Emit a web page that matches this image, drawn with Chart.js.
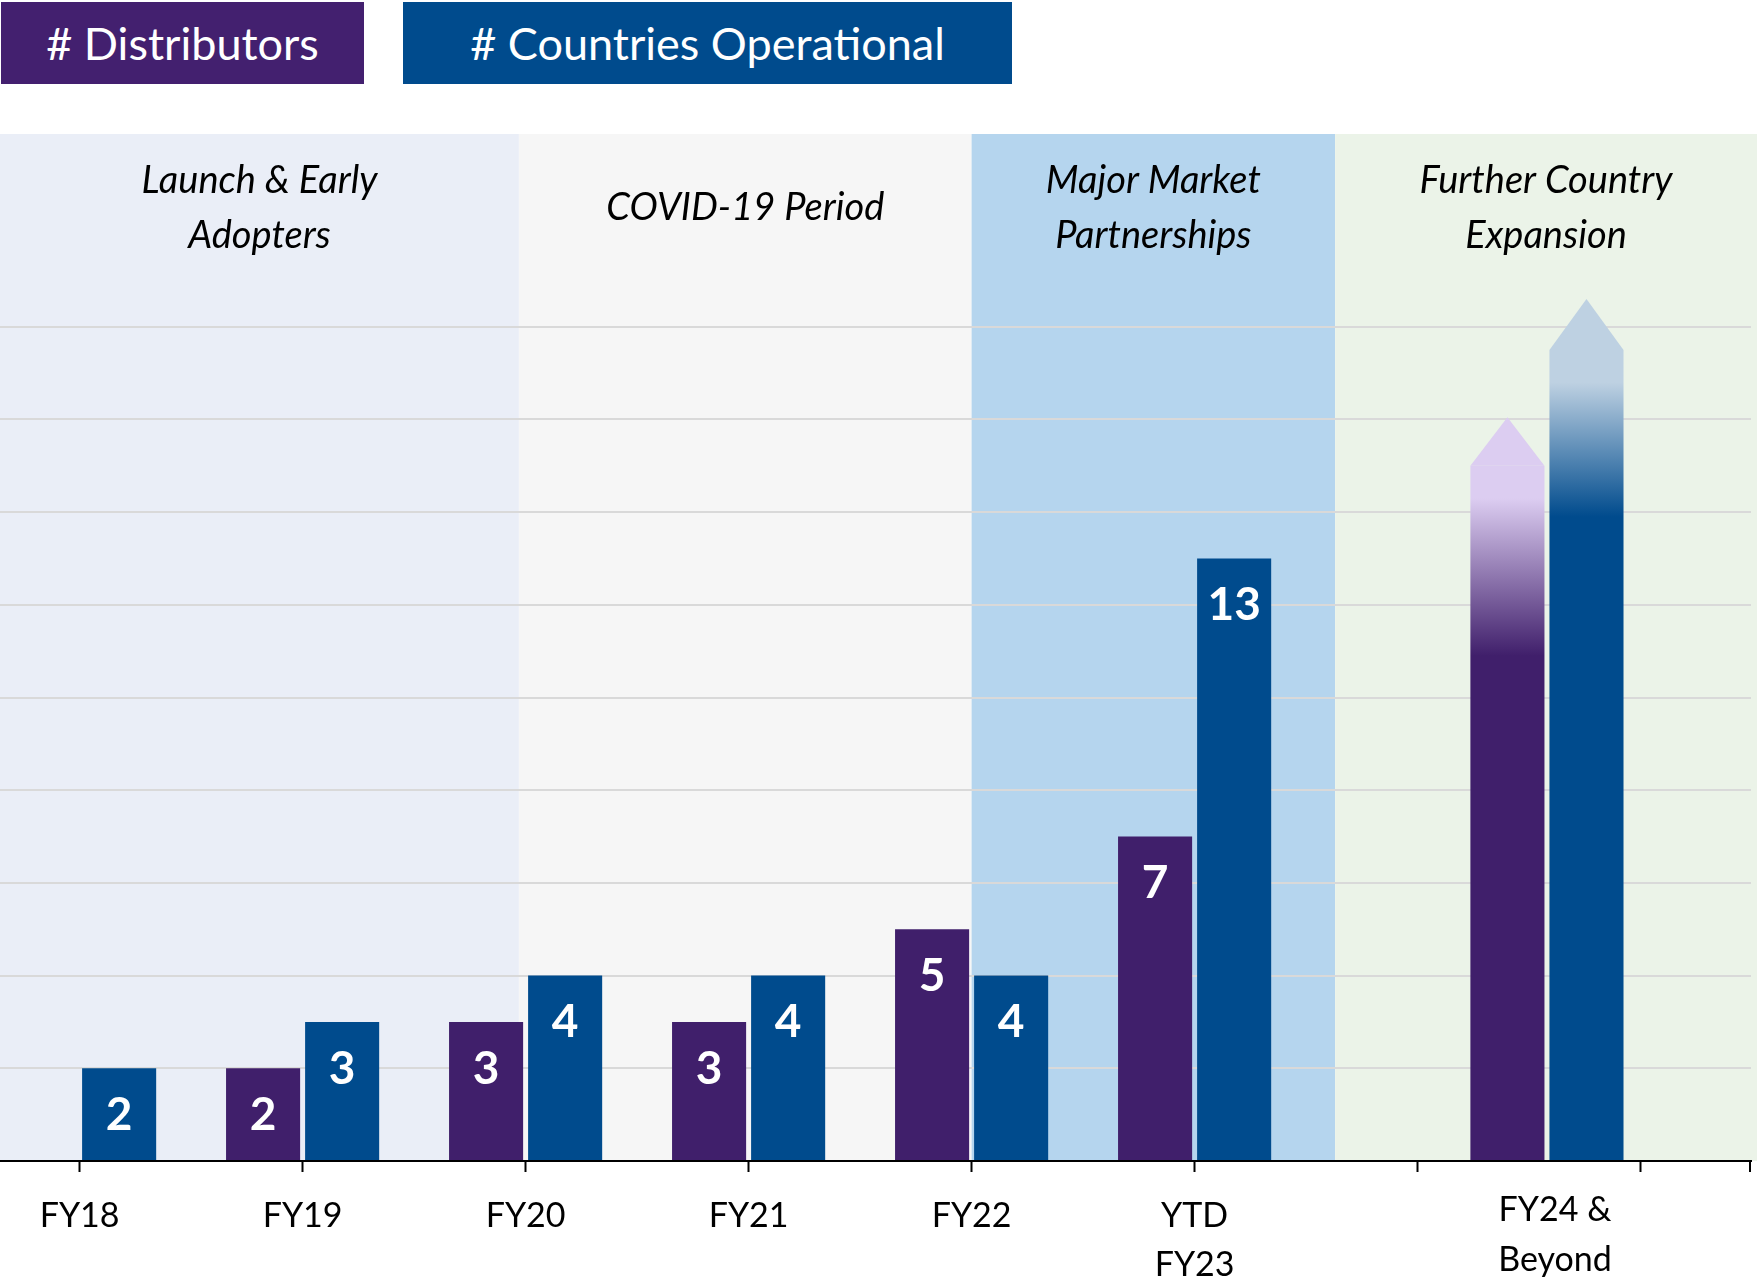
<!DOCTYPE html>
<html>
<head>
<meta charset="utf-8">
<script src="https://cdn.jsdelivr.net/npm/chart.js@4.4.0/dist/chart.umd.min.js"></script>
<style>
  html, body { margin: 0; padding: 0; background: #fff; }
  #wrap { position: relative; width: 1757px; height: 1282px; }
  #chart { position: absolute; left: 0; top: 0; }
  .legend-box {
    position: absolute; top: 2px; height: 82px; color: #fff;
    font-family: Lato, "Noto Sans", sans-serif; font-size: 45px;
    display: flex; align-items: center; justify-content: center;
  }
</style>
</head>
<body>
<div id="wrap">
  <canvas id="chart" width="1757" height="1282"></canvas>
  <div class="legend-box" id="lg-0" style="left:1px;width:363px;background:#43206f;"></div>
  <div class="legend-box" id="lg-1" style="left:403px;width:609px;background:#004b8d;"></div>
</div>
<script>
// categories and where they sit on the x axis (FY24 is a hand-placed projection)
const categories = ["FY18", "FY19", "FY20", "FY21", "FY22", ["YTD", "FY23"], ["FY24 &", "Beyond"]];
const categoryX = [0, 1, 2, 3, 4, 5, 6.58];
const seriesNames = ["# Distributors", "# Countries Operational"];
const distributors = [null, 2, 3, 3, 5, 7, 15];
const countries = [2, 3, 4, 4, 4, 13, 17.5];

// FY24 projection arrows: [distributors, countries]
const arrowTip = [16.05, 18.6];
const arrowSolidTo = [10.9, 13.9];
const arrowFadeTo = [14.3, 16.8];

const axisTicks = [0, 1, 2, 3, 4, 5, 6, 7];
const gridTicks = [0, 2, 4, 6, 8, 10, 12, 14, 16, 18];

const periods = [["Launch & Early", "Adopters"], ["COVID-19 Period"], ["Major Market", "Partnerships"], ["Further Country", "Expansion"]];
const periodStart = [-0.357, 1.97, 4.0, 5.63];

const periodColors = ["#eaeef7", "#f6f6f6", "#b5d5ee", "#ebf3e8"];
const solidColors = ["#401f6b", "#004b8d"];
const lightColors = ["#dccdf1", "#bed1e2"];
const arrowIdx = 6;

function barFill(k) {
  return (ctx) => {
    if (ctx.type !== "data" || ctx.dataIndex !== arrowIdx) return solidColors[k];
    const chart = ctx.chart;
    const y = chart.scales.y;
    if (!chart.chartArea || !y) return solidColors[k];
    const g = chart.ctx.createLinearGradient(0, y.getPixelForValue(arrowSolidTo[k]), 0, y.getPixelForValue(arrowFadeTo[k]));
    g.addColorStop(0, solidColors[k]);
    g.addColorStop(1, lightColors[k]);
    return g;
  };
}

const bandsPlugin = {
  id: "bands",
  beforeDraw(chart) {
    const { ctx, chartArea: a, scales: { x } } = chart;
    ctx.save();
    periodStart.forEach((s, i) => {
      const x0 = i === 0 ? 0 : x.getPixelForValue(s);
      const x1 = i < periodStart.length - 1 ? x.getPixelForValue(periodStart[i + 1]) : chart.width;
      ctx.fillStyle = periodColors[i];
      ctx.fillRect(x0, a.top, x1 - x0, a.bottom - a.top);

      ctx.fillStyle = "#000";
      ctx.font = "italic 38px Lato, sans-serif";
      ctx.textAlign = "center";
      ctx.textBaseline = "middle";
      const lines = periods[i];
      const cy = a.top + 74;
      lines.forEach((t, j) => {
        ctx.fillText(t, (x0 + x1) / 2, cy + (j - (lines.length - 1) / 2) * 55);
      });
    });
    ctx.restore();
  }
};

const marksPlugin = {
  id: "marks",
  afterDatasetsDraw(chart) {
    const { ctx, scales: { y } } = chart;
    ctx.save();
    ctx.fillStyle = "#fff";
    ctx.font = "bold 46px Lato, sans-serif";
    ctx.textAlign = "center";
    ctx.textBaseline = "middle";
    chart.data.datasets.forEach((ds, di) => {
      chart.getDatasetMeta(di).data.forEach((bar, i) => {
        const v = ds.data[i].y;
        if (v == null) return;
        if (i === arrowIdx) {
          const half = bar.width / 2;
          ctx.save();
          ctx.fillStyle = lightColors[di];
          ctx.beginPath();
          ctx.moveTo(bar.x - half, bar.y);
          ctx.lineTo(bar.x + half, bar.y);
          ctx.lineTo(bar.x, y.getPixelForValue(arrowTip[di]));
          ctx.closePath();
          ctx.fill();
          ctx.restore();
          return;
        }
        ctx.fillText(String(v), bar.x, bar.y + 47);
      });
    });
    ctx.restore();
  },
  afterDraw(chart) {
    const { ctx, chartArea: a, scales: { x } } = chart;
    ctx.save();
    ctx.strokeStyle = "#000";
    ctx.lineWidth = 2;
    ctx.beginPath();
    ctx.moveTo(a.right - 1, a.bottom);
    ctx.lineTo(a.right - 1, a.bottom + 11);
    ctx.stroke();
    ctx.fillStyle = "#000";
    ctx.font = "34px Lato, sans-serif";
    ctx.textAlign = "center";
    ctx.textBaseline = "middle";
    const cx = x.getPixelForValue(categoryX[arrowIdx]) + 8;
    categories[arrowIdx].forEach((t, j) => ctx.fillText(t, cx, a.bottom + 49 + j * 50));
    ctx.restore();
  }
};

seriesNames.forEach((n, i) => { document.getElementById("lg-" + i).textContent = n; });

new Chart(document.getElementById("chart"), {
  type: "bar",
  data: {
    datasets: [
      {
        label: seriesNames[0],
        data: categoryX.map((x, i) => ({ x, y: distributors[i] })),
        backgroundColor: barFill(0)
      },
      {
        label: seriesNames[1],
        data: categoryX.map((x, i) => ({ x, y: countries[i] })),
        backgroundColor: barFill(1)
      }
    ]
  },
  options: {
    responsive: false,
    devicePixelRatio: 1,
    animation: false,
    categoryPercentage: 0.709,
    barPercentage: 0.937,
    layout: { padding: { top: 134, right: 6, left: 0, bottom: 0 } },
    plugins: {
      legend: { display: false },
      tooltip: { enabled: false }
    },
    scales: {
      x: {
        type: "linear",
        offset: false,
        min: -0.357,
        max: 7.495,
        afterBuildTicks: (s) => { s.ticks = axisTicks.map((v) => ({ value: v })); },
        afterFit: (s) => { s.height = 121; },
        grid: { offset: false, drawOnChartArea: false, drawTicks: true, tickLength: 11, tickWidth: 2, tickColor: "#000" },
        border: { display: true, color: "#000", width: 2 },
        ticks: {
          autoSkip: false,
          maxRotation: 0,
          padding: 20,
          color: "#000",
          font: { family: "Lato", size: 34, lineHeight: 1.44 },
          callback: (v) => {
            const i = categoryX.indexOf(v);
            return i >= 0 && i < arrowIdx ? categories[i] : "";
          }
        }
      },
      y: {
        min: 0,
        max: 22.16,
        afterBuildTicks: (s) => { s.ticks = gridTicks.map((v) => ({ value: v })); },
        afterFit: (s) => { s.width = 0; },
        ticks: { display: false },
        border: { display: false },
        grid: {
          drawTicks: false,
          lineWidth: 2,
          color: (ctx) => (ctx.tick && ctx.tick.value === 0 ? "rgba(0,0,0,0)" : "#d9d9d9")
        }
      }
    }
  },
  plugins: [bandsPlugin, marksPlugin]
});
</script>
</body>
</html>
